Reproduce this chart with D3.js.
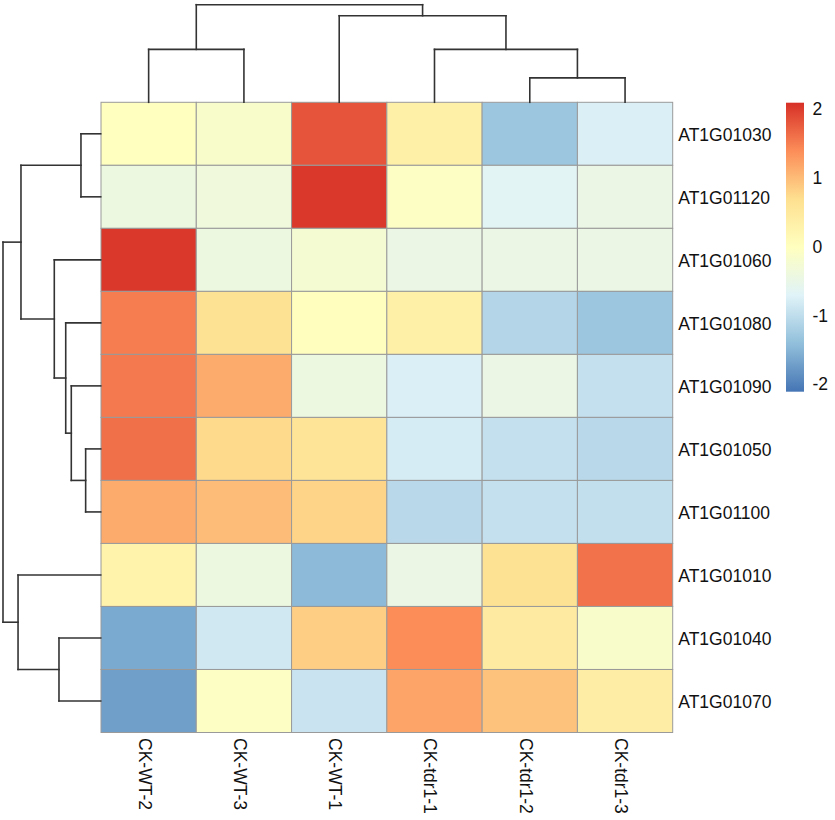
<!DOCTYPE html>
<html>
<head>
<meta charset="utf-8">
<script src="https://cdn.jsdelivr.net/npm/d3@7"></script>
<style>
  html, body { margin: 0; padding: 0; background: #ffffff; }
  svg { display: block; }
  text { font-family: "Liberation Sans", Arial, sans-serif; fill: #111; }
</style>
</head>
<body>
<svg id="chart" width="835" height="820"></svg>
<script>
// ---- data ----
const colLabels = ["CK-WT-2", "CK-WT-3", "CK-WT-1", "CK-tdr1-1", "CK-tdr1-2", "CK-tdr1-3"];
const rowLabels = ["AT1G01030", "AT1G01120", "AT1G01060", "AT1G01080", "AT1G01090",
                   "AT1G01050", "AT1G01100", "AT1G01010", "AT1G01040", "AT1G01070"];
const AT1G01030 = [0.00, -0.15, 1.82, 0.35, -1.30, -0.75];
const AT1G01120 = [-0.40, -0.35, 2.04, -0.05, -0.65, -0.45];
const AT1G01060 = [2.04, -0.40, -0.25, -0.45, -0.45, -0.45];
const AT1G01080 = [1.52, 0.65, 0.02, 0.35, -1.10, -1.30];
const AT1G01090 = [1.55, 1.15, -0.40, -0.75, -0.45, -0.95];
const AT1G01050 = [1.62, 0.75, 0.60, -0.80, -0.95, -1.05];
const AT1G01100 = [1.15, 1.00, 0.80, -1.05, -0.95, -0.97];
const AT1G01010 = [0.30, -0.40, -1.45, -0.45, 0.65, 1.60];
const AT1G01040 = [-1.60, -0.85, 0.85, 1.40, 0.45, -0.15];
const AT1G01070 = [-1.70, -0.05, -0.90, 1.20, 0.95, 0.40];
const values = [AT1G01030, AT1G01120, AT1G01060, AT1G01080, AT1G01090,
                AT1G01050, AT1G01100, AT1G01010, AT1G01040, AT1G01070];

// hclust-style merges (negative = leaf index+1, positive = earlier merge step)
const rowMerge = [[-1, -2], [-6, -7], [-5, 2], [-4, 3], [-3, 4], [1, 5], [-9, -10], [-8, 7], [6, 8]];
const rowHeight = [0.202, 0.154, 0.301, 0.358, 0.475, 0.816, 0.427, 0.846, 1.0];
const colMerge = [[-5, -6], [-1, -2], [-4, 1], [-3, 3], [2, 4]];
const colHeight = [0.25, 0.542, 0.542, 0.887, 1.0];

const legendTicks = [-2, -1, 0, 1, 2];
const legendLimit = 2.1;
const paletteColors = ["#4575B4", "#91BFDB", "#E0F3F8", "#FFFFBF", "#FEE090", "#FC8D59", "#D73027"];

// ---- layout ----
const svg = d3.select("#chart");
const heat = { left: 101, right: 672.7, top: 102.3, bottom: 732.5 };
const fontSize = 17.5;

const x = d3.scaleBand().domain(colLabels).range([heat.left, heat.right]);
const y = d3.scaleBand().domain(rowLabels).range([heat.top, heat.bottom]);

const colorDomain = d3.range(paletteColors.length).map(i => -legendLimit + i * (2 * legendLimit) / (paletteColors.length - 1));
const color = d3.scaleLinear().domain(colorDomain).range(paletteColors).interpolate(d3.interpolateRgb).clamp(true);

// ---- heatmap cells ----
const cells = [];
values.forEach((row, i) => row.forEach((v, j) => cells.push({ r: rowLabels[i], c: colLabels[j], v })));
svg.append("g").selectAll("rect").data(cells).join("rect")
  .attr("x", d => x(d.c))
  .attr("y", d => y(d.r))
  .attr("width", x.bandwidth())
  .attr("height", y.bandwidth())
  .attr("fill", d => color(d.v))
  .attr("stroke", "#9a9a9a")
  .attr("stroke-width", 1);

// ---- dendrograms ----
function dendroSegments(merge, heights, leafPos) {
  const nodes = [];
  const get = k => k < 0 ? { pos: leafPos(-k - 1), h: 0 } : nodes[k - 1];
  const segs = [];
  merge.forEach((m, i) => {
    const a = get(m[0]), b = get(m[1]), h = heights[i];
    segs.push([a.pos, a.h, a.pos, h], [a.pos, h, b.pos, h], [b.pos, h, b.pos, b.h]);
    nodes.push({ pos: (a.pos + b.pos) / 2, h });
  });
  return segs;
}

const colH = d3.scaleLinear().domain([0, 1]).range([heat.top, 4.7]);
const colSegs = dendroSegments(colMerge, colHeight, i => x(colLabels[i]) + x.bandwidth() / 2);
svg.append("g").selectAll("line").data(colSegs).join("line")
  .attr("x1", d => d[0]).attr("y1", d => colH(d[1]))
  .attr("x2", d => d[2]).attr("y2", d => colH(d[3]))
  .attr("stroke", "#333").attr("stroke-width", 1.6).attr("stroke-linecap", "square");

const rowH = d3.scaleLinear().domain([0, 1]).range([heat.left - 0.3, 3]);
const rowSegs = dendroSegments(rowMerge, rowHeight, i => y(rowLabels[i]) + y.bandwidth() / 2);
svg.append("g").selectAll("line").data(rowSegs).join("line")
  .attr("y1", d => d[0]).attr("x1", d => rowH(d[1]))
  .attr("y2", d => d[2]).attr("x2", d => rowH(d[3]))
  .attr("stroke", "#333").attr("stroke-width", 1.6).attr("stroke-linecap", "square");

// ---- labels ----
svg.append("g").selectAll("text").data(rowLabels).join("text")
  .attr("x", heat.right + 5.6)
  .attr("y", d => y(d) + y.bandwidth() / 2 + 7.5)
  .attr("font-size", fontSize)
  .text(d => d);

svg.append("g").selectAll("text").data(colLabels).join("text")
  .attr("transform", d => `translate(${x(d) + x.bandwidth() / 2 - 4},${heat.bottom + 5.5}) rotate(90)`)
  .attr("dy", "0.35em")
  .attr("font-size", fontSize)
  .text(d => d);

// ---- legend ----
const leg = { x: 786, w: 18, top: 102.7, bottom: 391.7 };
const legY = d3.scaleLinear().domain([-legendLimit, legendLimit]).range([leg.bottom, leg.top]);
const defs = svg.append("defs");
const grad = defs.append("linearGradient").attr("id", "legGrad")
  .attr("x1", 0).attr("y1", 1).attr("x2", 0).attr("y2", 0);
grad.selectAll("stop").data(colorDomain).join("stop")
  .attr("offset", d => (d + legendLimit) / (2 * legendLimit))
  .attr("stop-color", d => color(d));
svg.append("rect")
  .attr("x", leg.x).attr("y", leg.top)
  .attr("width", leg.w).attr("height", leg.bottom - leg.top)
  .attr("fill", "url(#legGrad)");
svg.append("g").selectAll("text").data(legendTicks).join("text")
  .attr("x", 812.5)
  .attr("y", d => legY(d) + 5.5)
  .attr("font-size", fontSize)
  .text(d => d);
</script>
</body>
</html>
